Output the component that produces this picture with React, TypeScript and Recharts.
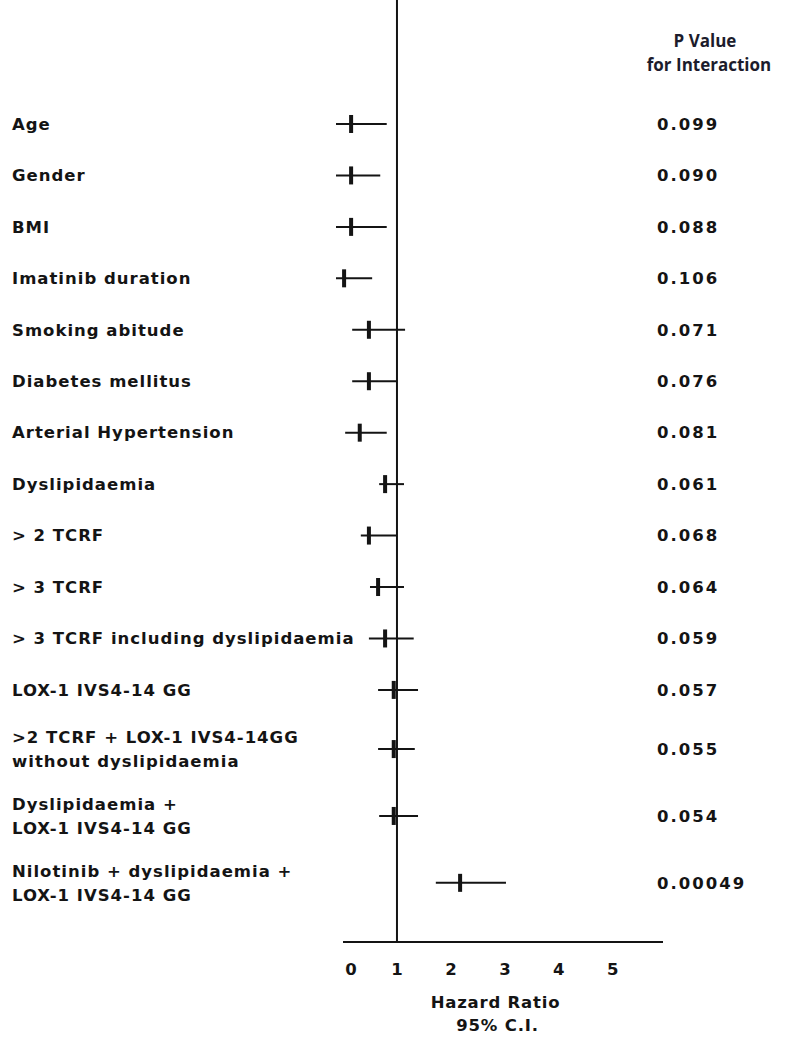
import { ScatterChart, Scatter, XAxis, YAxis, ErrorBar, ReferenceLine } from "recharts";

const factors = [
  "Age",
  "Gender",
  "BMI",
  "Imatinib duration",
  "Smoking abitude",
  "Diabetes mellitus",
  "Arterial Hypertension",
  "Dyslipidaemia",
  "> 2 TCRF",
  "> 3 TCRF",
  "> 3 TCRF including dyslipidaemia",
  "LOX-1 IVS4-14 GG",
  ">2 TCRF + LOX-1 IVS4-14GG\nwithout dyslipidaemia",
  "Dyslipidaemia +\nLOX-1 IVS4-14 GG",
  "Nilotinib + dyslipidaemia +\nLOX-1 IVS4-14 GG",
];
const hazardRatio = [0.15, 0.15, 0.15, 0.02, 0.48, 0.48, 0.31, 0.78, 0.48, 0.65, 0.78, 0.94, 0.94, 0.94, 2.17];
const ciLower = [-0.13, -0.13, -0.13, -0.13, 0.17, 0.17, 0.04, 0.67, 0.33, 0.5, 0.48, 0.65, 0.65, 0.67, 1.72];
const ciUpper = [0.81, 0.69, 0.81, 0.54, 1.15, 1.0, 0.81, 1.13, 1.0, 1.13, 1.31, 1.39, 1.33, 1.39, 3.02];
const pValues = [
  "0.099", "0.090", "0.088", "0.106", "0.071", "0.076", "0.081", "0.061",
  "0.068", "0.064", "0.059", "0.057", "0.055", "0.054", "0.00049",
];
const hrTicks = [0, 1, 2, 3, 4, 5];

const FONT = "'DejaVu Sans', Verdana, sans-serif";
const HEAD_FONT = "'Open Sans', sans-serif";
const INK = "#141414";

// two-line labels get a bit more room
const lines = factors.map((f) => f.split("\n").length);
const rowPos: number[] = [];
lines.forEach((n, i) => {
  if (i === 0) rowPos.push(0);
  else rowPos.push(rowPos[i - 1] + 1 + 0.15 * (lines[i - 1] - 1 + n - 1));
});

const data = factors.map((f, i) => ({
  row: rowPos[i],
  hr: hazardRatio[i],
  err: [hazardRatio[i] - ciLower[i], ciUpper[i] - hazardRatio[i]],
}));

const X_MIN = -0.13;
const X_MAX = 5.93;
const Y_MIN = -2.41;
const Y_MAX = rowPos[rowPos.length - 1] + 1.15;

function FactorTick(props: any) {
  const { y, index } = props;
  const parts = factors[index].split("\n");
  const start = parts.length > 1 ? -12 : 0;
  return (
    <text x={12} y={y} fill={INK} fontFamily={FONT} fontWeight="bold" fontSize={16.5} letterSpacing={1}>
      {parts.map((p, k) => (
        <tspan key={k} x={12} y={y + start + k * 24} dy="0.35em">
          {p}
        </tspan>
      ))}
    </text>
  );
}

function PTick(props: any) {
  const { y, index } = props;
  return (
    <text x={657} y={y} dy="0.35em" fill={INK} fontFamily={FONT} fontWeight="bold" fontSize={16.5} letterSpacing={2}>
      {pValues[index]}
    </text>
  );
}

function HrTick(props: any) {
  const { x, y, payload } = props;
  // the zero label sits a little right of its tick in the original
  const dx = payload.value === 0 ? 8 : 0;
  return (
    <text x={x + dx} y={y} dy="0.71em" textAnchor="middle" fill={INK} fontFamily={FONT} fontWeight="bold" fontSize={16.5}>
      {payload.value}
    </text>
  );
}

function Marker(props: any) {
  const { cx, cy } = props;
  return <rect x={cx - 2} y={cy - 9} width={4} height={18} fill={INK} />;
}

const Nothing = () => <g />;

export default function App() {
  return (
    <div style={{ position: "absolute", left: 0, top: 0, background: "#fff" }}>
      <ScatterChart width={789} height={1040} margin={{ top: 0, right: 0, bottom: 0, left: 0 }}>
        <XAxis
          type="number"
          dataKey="hr"
          domain={[X_MIN, X_MAX]}
          ticks={hrTicks}
          axisLine={false}
          tickLine={false}
          tickMargin={15}
          height={98}
          tick={<HrTick />}
          label={{
            content: (p: any) => {
              const vb = p.viewBox;
              const cx = vb.x + vb.width / 2;
              return (
                <text fill={INK} fontFamily={FONT} fontWeight="bold" fontSize={16.5} letterSpacing={0.8} textAnchor="middle">
                  <tspan x={cx - 4} y={1008}>Hazard Ratio</tspan>
                  <tspan x={cx - 2} y={1031}>95% C.I.</tspan>
                </text>
              );
            },
          }}
        />
        <YAxis
          yAxisId="left"
          type="number"
          dataKey="row"
          reversed
          domain={[Y_MIN, Y_MAX]}
          ticks={rowPos}
          width={336}
          axisLine={false}
          tickLine={false}
          tick={<FactorTick />}
        />
        <YAxis
          yAxisId="right"
          orientation="right"
          type="number"
          dataKey="row"
          reversed
          domain={[Y_MIN, Y_MAX]}
          ticks={rowPos}
          width={126}
          axisLine={false}
          tickLine={false}
          tick={<PTick />}
          label={{
            content: (p: any) => {
              const vb = p.viewBox;
              const cx = vb.x + vb.width / 2;
              return (
                <text fill="#1c1c2c" fontFamily={HEAD_FONT} fontWeight={700} fontSize={17} textAnchor="middle">
                  <tspan x={cx - 21} y={47}>P Value</tspan>
                  <tspan x={cx - 17} y={71}>for Interaction</tspan>
                </text>
              );
            },
          }}
        />
        <ReferenceLine yAxisId="left" x={1} stroke={INK} strokeWidth={2} />
        <ReferenceLine
          yAxisId="left"
          segment={[{ x: 0, y: Y_MAX }, { x: X_MAX, y: Y_MAX }]}
          stroke={INK}
          strokeWidth={2}
        />
        <Scatter yAxisId="right" data={data} shape={<Nothing />} isAnimationActive={false} />
        <Scatter yAxisId="left" data={data} shape={<Marker />} isAnimationActive={false}>
          <ErrorBar dataKey="err" direction="x" width={0} stroke={INK} strokeWidth={2} isAnimationActive={false} />
        </Scatter>
      </ScatterChart>
    </div>
  );
}
